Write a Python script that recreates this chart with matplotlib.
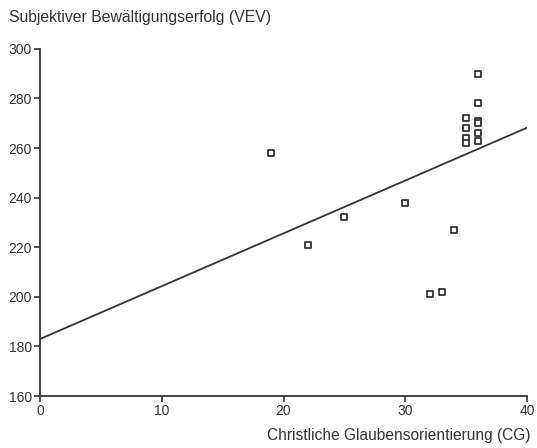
import matplotlib
matplotlib.use("Agg")
import matplotlib.pyplot as plt

plt.rcParams['font.family'] = ['Liberation Sans', 'DejaVu Sans']

# Christliche Glaubensorientierung (CG) vs. Bewaeltigungserfolg (VEV)
cg = [19, 22, 25, 30, 34, 32, 33,
      36, 36, 35, 36, 36, 35, 36, 35, 35, 36]
vev = [258, 221, 232, 238, 227, 201, 202,
       290, 278, 272, 271, 270, 268, 266, 264, 262, 263]

# regression line as drawn
intercept = 183
slope = 2.13
line_x = [0, 40]

xticks = [0, 10, 20, 30, 40]
yticks = [160, 180, 200, 220, 240, 260, 280, 300]

ink = '#333333'

fig = plt.figure(figsize=(5.37, 4.48), dpi=100)
ax = fig.add_axes([0.0745, 0.116, 0.907, 0.775])

ax.plot(line_x, [intercept + slope * x for x in line_x], color=ink, lw=1.3)
ax.scatter(cg, vev, marker='s', s=14, facecolor='white', edgecolor=ink,
           linewidth=1.3, zorder=3)

ax.set_xlim(0, 40)
ax.set_ylim(160, 300)
ax.set_xticks(xticks)
ax.set_yticks(yticks)
for s in ['top', 'right']:
    ax.spines[s].set_visible(False)
for s in ['left', 'bottom']:
    ax.spines[s].set_color(ink)
    ax.spines[s].set_linewidth(1.3)
ax.tick_params(colors=ink, labelsize=10, length=4, width=1.2, pad=2)

fig.text(0.017, 0.962, 'Subjektiver Bewältigungserfolg (VEV)', fontsize=11.3,
         color=ink, ha='left', va='center')
fig.text(0.988, 0.029, 'Christliche Glaubensorientierung (CG)', fontsize=11.2,
         color=ink, ha='right', va='center')

fig.savefig('out.png', dpi=100)
